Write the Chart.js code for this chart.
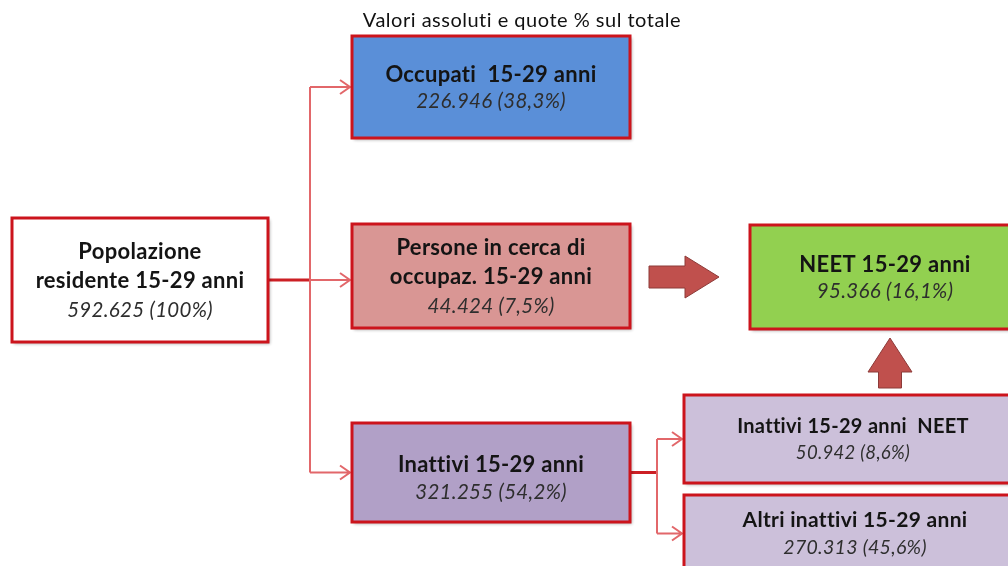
<!DOCTYPE html>
<html>
<head>
<meta charset="utf-8">
<script src="https://cdn.jsdelivr.net/npm/chart.js@4"></script>
<style>
  body { margin: 0; background: #fff; }
  canvas { display: block; }
</style>
</head>
<body>
<canvas id="neetChart" width="1008" height="566"></canvas>
<script>
// dati
const subtitle = "Valori assoluti e quote % sul totale";
const nodeTitles = [
    ["Popolazione", "residente 15-29 anni"],
    ["Occupati  15-29 anni"],
    ["Persone in cerca di", "occupaz. 15-29 anni"],
    ["Inattivi 15-29 anni"],
    ["NEET 15-29 anni"],
    ["Inattivi 15-29 anni  NEET"],
    ["Altri inattivi 15-29 anni"],
];
const nodeValues = [592625, 226946, 44424, 321255, 95366, 50942, 270313];
const nodeShares = [100, 38.3, 7.5, 54.2, 16.1, 8.6, 45.6];

// collegamenti (indici dei nodi)
const branches = [
    { from: 0, to: [1, 2, 3] },
    { from: 3, to: [5, 6] },
];
const flows = [
    { from: 2, to: 4, dir: "right" },
    { from: 5, to: 4, dir: "up" },
];

// layout in unità del grafico (0..1008 x 0..566)
const boxes = [
    { x0: 12, y0: 218, x1: 268, y1: 342, fill: "#ffffff", fs: 22 },
    { x0: 352, y0: 36, x1: 630, y1: 138, fill: "#5a8fd8", fs: 22 },
    { x0: 352, y0: 224, x1: 630, y1: 328, fill: "#d99694", fs: 22 },
    { x0: 352, y0: 423, x1: 630, y1: 522, fill: "#b1a0c7", fs: 22 },
    { x0: 750, y0: 225, x1: 1020, y1: 329, fill: "#92d050", fs: 22 },
    { x0: 684, y0: 395, x1: 1022, y1: 483, fill: "#ccc0da", fs: 20 },
    { x0: 684, y0: 495, x1: 1026, y1: 572, fill: "#ccc0da", fs: 21 },
];

function fmtValue(v) {
    return String(v).replace(/\B(?=(\d{3})+(?!\d))/g, ".");
}
function fmtShare(s) {
    return (s === 100 ? "100" : s.toFixed(1).replace(".", ",")) + "%";
}

const diagramPlugin = {
    id: "diagram",
    afterDatasetsDraw(chart) {
        const ctx = chart.ctx;
        const sx = (v) => chart.scales.x.getPixelForValue(v);
        const sy = (v) => chart.scales.y.getPixelForValue(v);
        const rect = (i) => {
            const b = boxes[i];
            return { l: sx(b.x0), r: sx(b.x1), t: sy(b.y0), b: sy(b.y1),
                cx: (sx(b.x0) + sx(b.x1)) / 2, cy: (sy(b.y0) + sy(b.y1)) / 2 };
        };

        ctx.save();

        // sottotitolo
        ctx.fillStyle = "#111";
        ctx.font = '20px Lato';
        ctx.letterSpacing = "0.5px";
        ctx.textAlign = "center";
        ctx.textBaseline = "middle";
        ctx.fillText(subtitle, sx(522), sy(21));

        // connettori ad albero
        branches.forEach((br) => {
            const p = rect(br.from);
            const kids = br.to.map(rect);
            const busX = (p.r + kids[0].l) / 2;
            const ys = kids.map((k) => (Math.abs(k.cy - p.cy) < 15 ? p.cy : k.cy));

            ctx.strokeStyle = "#cc1f24";
            ctx.lineWidth = 3;
            ctx.beginPath();
            ctx.moveTo(p.r, p.cy);
            ctx.lineTo(busX, p.cy);
            ctx.stroke();

            ctx.strokeStyle = "#e2676a";
            ctx.lineWidth = 2;
            ctx.beginPath();
            ctx.moveTo(busX, Math.min(...ys));
            ctx.lineTo(busX, Math.max(...ys));
            ctx.stroke();

            kids.forEach((k, j) => {
                const y = ys[j];
                ctx.beginPath();
                ctx.moveTo(busX, y);
                ctx.lineTo(k.l - 2, y);
                ctx.moveTo(k.l - 12, y - 7);
                ctx.lineTo(k.l - 2, y);
                ctx.lineTo(k.l - 12, y + 7);
                ctx.stroke();
            });
        });

        // frecce piene
        flows.forEach((f) => {
            const a = rect(f.from);
            const b = rect(f.to);
            ctx.fillStyle = "#c0504d";
            ctx.strokeStyle = "#8c3a38";
            ctx.lineWidth = 1;
            ctx.beginPath();
            if (f.dir === "right") {
                const x0 = a.r + 19, x1 = b.l - 31, y = sy(277);
                const head = 34, sh = 11, hh = 21;
                ctx.moveTo(x0, y - sh);
                ctx.lineTo(x1 - head, y - sh);
                ctx.lineTo(x1 - head, y - hh);
                ctx.lineTo(x1, y);
                ctx.lineTo(x1 - head, y + hh);
                ctx.lineTo(x1 - head, y + sh);
                ctx.lineTo(x0, y + sh);
            } else {
                const x = sx(890), y0 = a.t - 7, y1 = b.b + 9;
                const head = 34, sw = 11.5, hw = 22;
                ctx.moveTo(x - sw, y0);
                ctx.lineTo(x - sw, y1 + head);
                ctx.lineTo(x - hw, y1 + head);
                ctx.lineTo(x, y1);
                ctx.lineTo(x + hw, y1 + head);
                ctx.lineTo(x + sw, y1 + head);
                ctx.lineTo(x + sw, y0);
            }
            ctx.closePath();
            ctx.fill();
            ctx.stroke();
        });

        // riquadri
        boxes.forEach((bx, i) => {
            const r = rect(i);
            ctx.save();
            ctx.shadowColor = "rgba(0,0,0,0.3)";
            ctx.shadowBlur = 3;
            ctx.shadowOffsetX = 2;
            ctx.shadowOffsetY = 2;
            ctx.fillStyle = bx.fill;
            ctx.fillRect(r.l, r.t, r.r - r.l, r.b - r.t);
            ctx.restore();
            ctx.strokeStyle = "#cc141c";
            ctx.lineWidth = 3;
            ctx.strokeRect(r.l, r.t, r.r - r.l, r.b - r.t);

            const lines = nodeTitles[i].length + 1;
            const step = lines === 3 ? 29 : 27;
            let tx = r.cx;
            if (i === 4) tx = sx(885);
            if (i === 5) tx = sx(853);
            if (i === 6) tx = sx(855);
            let cy = i === 6 ? sy(534) : r.cy + (i === 3 ? 6 : 1);
            let y = cy - ((lines - 1) * step) / 2;
            ctx.textAlign = "center";
            ctx.textBaseline = "middle";
            ctx.letterSpacing = "0.3px";
            nodeTitles[i].forEach((t) => {
                ctx.fillStyle = "#141414";
                ctx.font = "bold " + bx.fs + "px Lato";
                ctx.fillText(t, tx, y);
                y += step;
            });
            ctx.fillStyle = "#2e2e2e";
            ctx.font = "italic " + (bx.fs - 1.5) + "px Lato";
            ctx.fillText(fmtValue(nodeValues[i]) + " (" + fmtShare(nodeShares[i]) + ")", tx, y);
        });

        ctx.restore();
    },
};

const canvas = document.querySelector("#neetChart");

new Chart(canvas, {
    type: "scatter",
    data: {
        labels: nodeTitles.map((t) => t.join(" ")),
        datasets: [{
            label: "Nodi",
            data: boxes.map((b) => ({ x: (b.x0 + b.x1) / 2, y: (b.y0 + b.y1) / 2 })),
            pointRadius: 0,
        }],
    },
    options: {
        responsive: false,
        animation: false,
        events: [],
        layout: { padding: 0 },
        plugins: {
            legend: { display: false },
            tooltip: { enabled: false },
        },
        scales: {
            x: { type: "linear", min: 0, max: 1008, display: false },
            y: { type: "linear", min: 0, max: 566, reverse: true, display: false },
        },
    },
    plugins: [diagramPlugin],
});
</script>
</body>
</html>
